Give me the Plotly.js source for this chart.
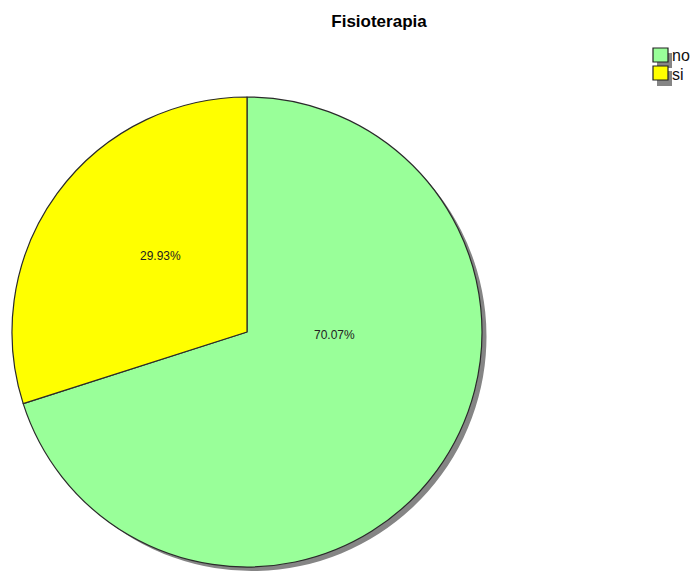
<!DOCTYPE html>
<html>
<head>
<meta charset="utf-8">
<script src="https://cdn.plot.ly/plotly-3.0.1.min.js"></script>
<style>
  html, body { margin: 0; padding: 0; background: #ffffff; }
  #chart { width: 692px; height: 571px; }
</style>
</head>
<body>
<div id="chart"></div>
<script>
// Fisioterapia: share of answers
const categories = ['no', 'si'];
const shares = [70.07, 29.93];
const sliceColors = ['#99FF99', '#FFFF00'];
const chartTitle = 'Fisioterapia';

const W = 692, H = 571;
const fx = px => px / W;            // pixel -> paper x
const fy = py => 1 - py / H;        // pixel (from top) -> paper y

// pie placement in pixels
const pie = { left: 12, top: 97, size: 470 };
const shadowOffset = 5;
// where each slice's percentage label sits (pixels)
const labelSpots = [[334, 335], [160, 256]];

const shadowTrace = {
  type: 'pie',
  labels: categories.map(c => c + '_shadow'),
  values: shares,
  sort: false,
  direction: 'clockwise',
  rotation: 0,
  marker: { colors: categories.map(() => '#858585'), line: { width: 0 } },
  textinfo: 'none',
  hoverinfo: 'skip',
  showlegend: false,
  domain: {
    x: [fx(pie.left + shadowOffset), fx(pie.left + shadowOffset + pie.size)],
    y: [fy(pie.top + shadowOffset + pie.size), fy(pie.top + shadowOffset)]
  }
};

const mainTrace = {
  type: 'pie',
  labels: categories,
  values: shares,
  sort: false,
  direction: 'clockwise',
  rotation: 0,
  marker: { colors: sliceColors, line: { color: '#2a2a2a', width: 1.2 } },
  textinfo: 'none',
  hoverinfo: 'label+percent',
  showlegend: false,
  domain: {
    x: [fx(pie.left), fx(pie.left + pie.size)],
    y: [fy(pie.top + pie.size), fy(pie.top)]
  }
};

const total = shares.reduce((a, b) => a + b, 0);
const shapes = [];
const annotations = [];

// percentage labels inside the slices
shares.forEach((v, i) => {
  annotations.push({
    xref: 'paper', yref: 'paper', showarrow: false,
    x: fx(labelSpots[i][0]), xanchor: 'center',
    y: fy(labelSpots[i][1]), yanchor: 'middle',
    text: (100 * v / total).toFixed(2) + '%',
    font: { family: 'Liberation Sans, Arial, sans-serif', size: 12, color: '#222222' }
  });
});

// legend drawn as boxes with a drop shadow
const legend = { left: 653, top: 48, box: 15, boxH: 14, step: 18, shadow: 4 };
categories.forEach((cat, i) => {
  const y0 = legend.top + i * legend.step;
  shapes.push({
    type: 'rect', xref: 'paper', yref: 'paper', layer: 'below',
    x0: fx(legend.left + legend.shadow), x1: fx(legend.left + legend.box + legend.shadow),
    y0: fy(y0 + legend.boxH + legend.shadow + 2), y1: fy(y0 + legend.shadow + 1),
    fillcolor: '#858585', line: { width: 0 }
  });
  shapes.push({
    type: 'rect', xref: 'paper', yref: 'paper', layer: 'above',
    x0: fx(legend.left), x1: fx(legend.left + legend.box),
    y0: fy(y0 + legend.boxH), y1: fy(y0),
    fillcolor: sliceColors[i], line: { color: '#222222', width: 1.2 }
  });
  annotations.push({
    xref: 'paper', yref: 'paper', showarrow: false,
    x: fx(legend.left + legend.box + 2), xanchor: 'left',
    y: fy(y0 + legend.boxH / 2 + 1), yanchor: 'middle',
    text: cat,
    font: { family: 'Liberation Sans, Arial, sans-serif', size: 16, color: '#111111' }
  });
});

const layout = {
  width: W, height: H,
  margin: { l: 0, r: 0, t: 0, b: 0 },
  paper_bgcolor: '#ffffff',
  plot_bgcolor: '#ffffff',
  showlegend: false,
  title: {
    text: '<b>' + chartTitle + '</b>',
    x: fx(379), xanchor: 'center',
    y: fy(21), yanchor: 'middle',
    font: { family: 'Liberation Sans, Arial, sans-serif', size: 17, color: '#000000' }
  },
  shapes: shapes,
  annotations: annotations
};

Plotly.newPlot('chart', [shadowTrace, mainTrace], layout, { displayModeBar: false, staticPlot: true });
</script>
</body>
</html>
